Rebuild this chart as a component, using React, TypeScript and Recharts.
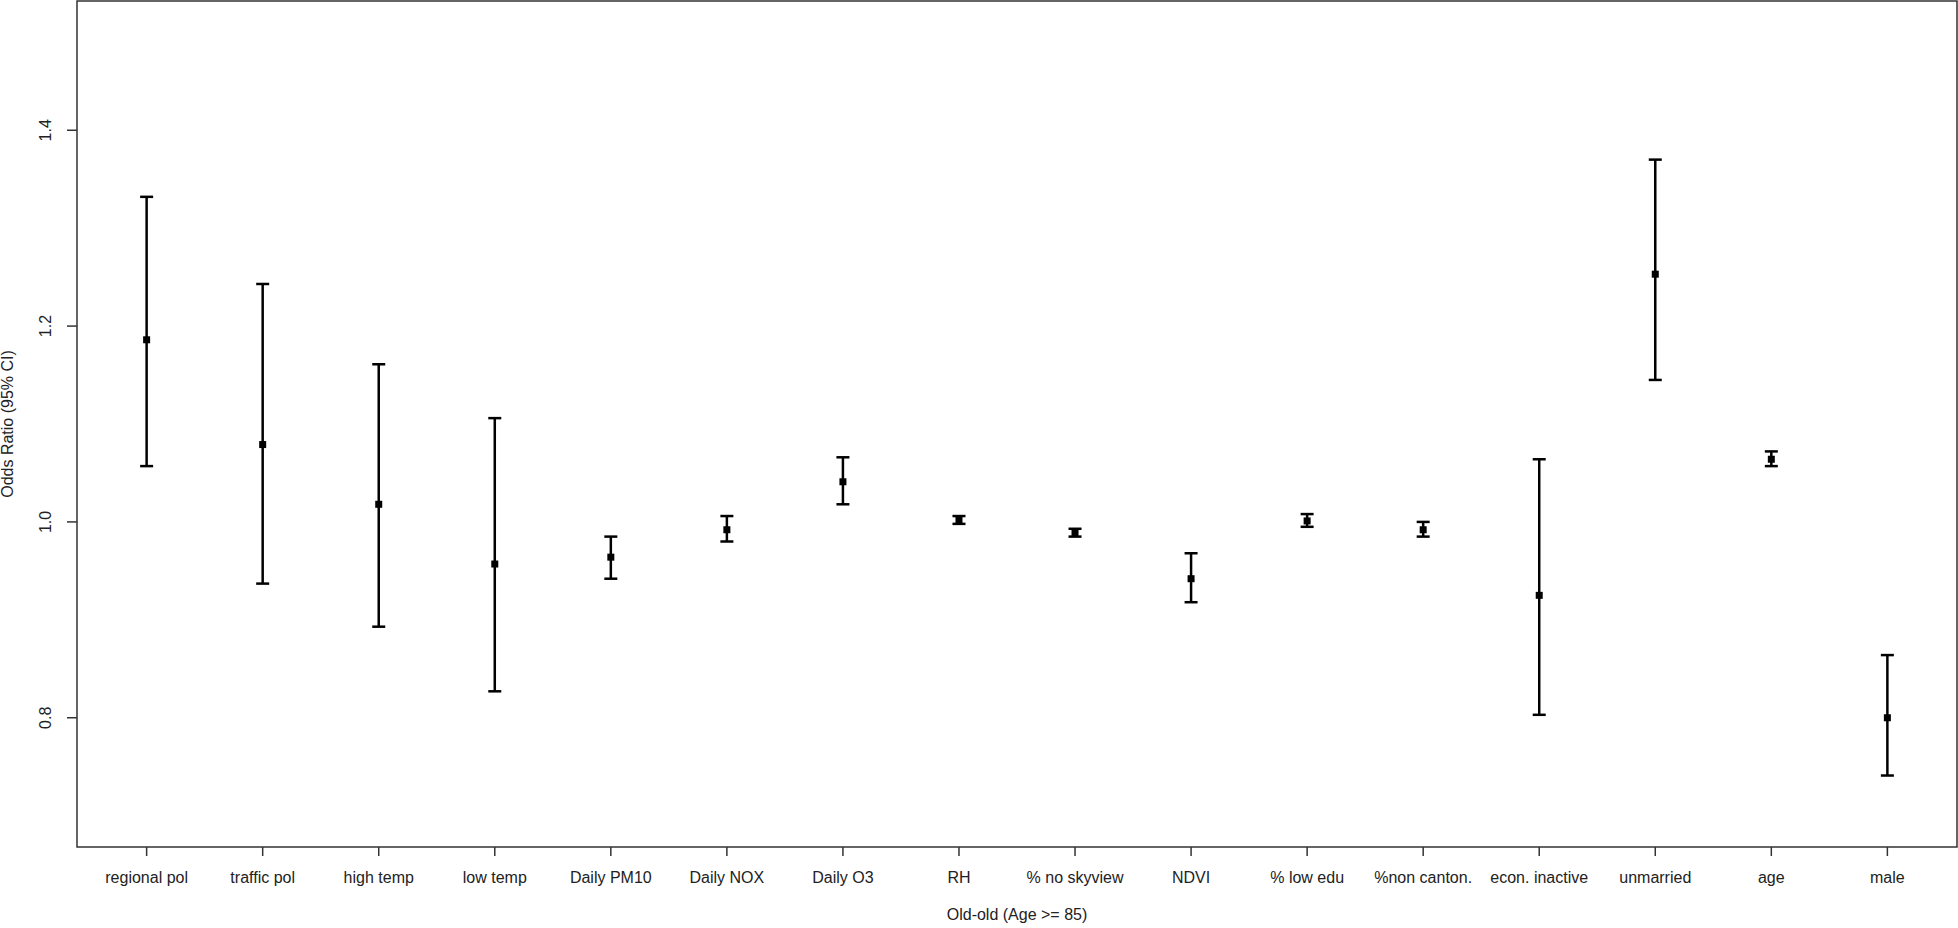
import React from 'react'
import { ComposedChart, Scatter, ErrorBar, XAxis, YAxis, ReferenceArea } from 'recharts'

const categories = [
  'regional pol', 'traffic pol', 'high temp', 'low temp', 'Daily PM10', 'Daily NOX',
  'Daily O3', 'RH', '% no skyview', 'NDVI', '% low edu', '%non canton.',
  'econ. inactive', 'unmarried', 'age', 'male',
]
const oddsRatio = [1.186, 1.079, 1.018, 0.957, 0.964, 0.992, 1.041, 1.002, 0.989, 0.942, 1.001, 0.992, 0.925, 1.253, 1.064, 0.800]
const lowerCI = [1.057, 0.937, 0.893, 0.827, 0.942, 0.980, 1.018, 0.998, 0.985, 0.918, 0.995, 0.985, 0.803, 1.145, 1.057, 0.741]
const upperCI = [1.332, 1.243, 1.161, 1.106, 0.985, 1.006, 1.066, 1.006, 0.993, 0.968, 1.008, 1.000, 1.064, 1.370, 1.072, 0.864]
const yTicks = [0.8, 1.0, 1.2, 1.4]

const FONT = '"Liberation Sans", Arial, sans-serif'
const TEXT = '#222222'

const data = categories.map((c, i) => ({
  x: i + 1,
  or: oddsRatio[i],
  err: [oddsRatio[i] - lowerCI[i], upperCI[i] - oddsRatio[i]],
}))

function Square(props: any) {
  const { cx, cy } = props
  return <rect x={cx - 3.5} y={cy - 3.5} width={7} height={7} fill="#000" />
}

function YTick(props: any) {
  const { x, y, payload } = props
  const bx = x - 14
  return (
    <text x={bx} y={y} transform={`rotate(-90 ${bx} ${y})`} textAnchor="middle"
      fontSize={16} fontFamily={FONT} fill={TEXT}>
      {payload.value.toFixed(1)}
    </text>
  )
}

function YTitle(props: any) {
  const vb = props.viewBox
  const cx = vb.x + 13
  const cy = vb.y + vb.height / 2
  return (
    <text x={cx} y={cy} transform={`rotate(-90 ${cx} ${cy})`} textAnchor="middle"
      fontSize={16} fontFamily={FONT} fill={TEXT}>
      Odds Ratio (95% CI)
    </text>
  )
}

function XTitle(props: any) {
  const vb = props.viewBox
  return (
    <text x={vb.x + vb.width / 2} y={vb.y + 73} textAnchor="middle"
      fontSize={16} fontFamily={FONT} fill={TEXT}>
      Old-old (Age &gt;= 85)
    </text>
  )
}

export default function App() {
  return (
    <div style={{ position: 'absolute', left: 0, top: 0, width: 1958, height: 928, background: '#fff' }}>
      <ComposedChart width={1958} height={928} data={data} margin={{ top: 1, right: 1, bottom: 0, left: 0 }}>
        <XAxis
          dataKey="x"
          type="number"
          domain={[0.4, 16.6]}
          ticks={categories.map((_, i) => i + 1)}
          interval={0}
          tickFormatter={(v: number) => categories[v - 1]}
          height={81}
          tickSize={9}
          tickMargin={16}
          axisLine={false}
          tickLine={{ stroke: '#333', strokeWidth: 1.5 }}
          tick={{ fill: TEXT, fontSize: 16, fontFamily: FONT }}
          label={{ content: XTitle }}
        />
        <YAxis
          type="number"
          domain={[0.668, 1.532]}
          ticks={yTicks}
          width={77}
          tickSize={10}
          axisLine={false}
          tickLine={{ stroke: '#333', strokeWidth: 1.5 }}
          tick={YTick}
          label={{ content: YTitle }}
        />
        <ReferenceArea x1={0.4} x2={16.6} y1={0.668} y2={1.532} fill="none" stroke="#333" strokeWidth={1.5} ifOverflow="visible" />
        <Scatter dataKey="or" shape={Square} isAnimationActive={false}>
          <ErrorBar dataKey="err" direction="y" width={6.5} stroke="#000" strokeWidth={2.5} isAnimationActive={false} />
        </Scatter>
      </ComposedChart>
    </div>
  )
}
